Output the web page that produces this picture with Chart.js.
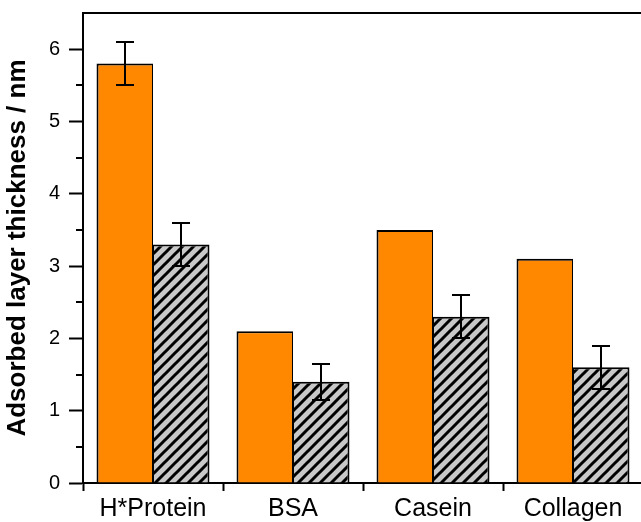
<!DOCTYPE html>
<html><head><meta charset="utf-8">
<script src="https://cdn.jsdelivr.net/npm/chart.js@4/dist/chart.umd.min.js"></script>
<style>html,body{margin:0;padding:0;overflow:hidden;background:#fff;width:641px;height:522px}</style>
</head><body>
<canvas id="c" width="660" height="522" style="display:block;width:660px;height:522px"></canvas>
<script>
const categories = ['H*Protein', 'BSA', 'Casein', 'Collagen'];
const seriesA = [5.8, 2.1, 3.5, 3.1];
const errorsA = [0.3, 0, 0, 0];
const seriesB = [3.3, 1.4, 2.3, 1.6];
const errorsB = [0.3, 0.25, 0.3, 0.3];
const yTicks = [0, 1, 2, 3, 4, 5, 6];
const yMinorTicks = [0.5, 1.5, 2.5, 3.5, 4.5, 5.5];
const yMin = 0, yMax = 6.5;
const yTitle = 'Adsorbed layer thickness / nm';

const F = "'Liberation Sans', Arial, Helvetica, sans-serif";

function hatch() {
  const s = 11;
  const c = document.createElement('canvas');
  c.width = s; c.height = s;
  const g = c.getContext('2d');
  g.fillStyle = '#c8c8c8'; g.fillRect(0, 0, s, s);
  g.strokeStyle = '#000'; g.lineWidth = 3;
  g.beginPath();
  g.moveTo(-1, s + 1); g.lineTo(s + 1, -1);
  g.moveTo(-s / 2 - 1, s / 2 + 1); g.lineTo(s / 2 + 1, -s / 2 - 1);
  g.moveTo(s / 2 - 1, s * 1.5 + 1); g.lineTo(s * 1.5 + 1, s / 2 - 1);
  g.stroke();
  return g.createPattern(c, 'repeat');
}

const errorPlugin = {
  id: 'err',
  afterDatasetsDraw(chart) {
    const ctx = chart.ctx, y = chart.scales.y;
    chart.data.datasets.forEach((ds, i) => {
      const meta = chart.getDatasetMeta(i);
      meta.data.forEach((bar, j) => {
        const e = ds.errors[j];
        if (!e) return;
        const v = ds.data[j], x = Math.round(bar.x);
        const top = Math.round(y.getPixelForValue(v + e)), bot = Math.round(y.getPixelForValue(v - e));
        ctx.save();
        ctx.strokeStyle = '#000'; ctx.lineWidth = 2;
        ctx.beginPath();
        ctx.moveTo(x, top); ctx.lineTo(x, bot);
        ctx.moveTo(x - 9, top); ctx.lineTo(x + 9, top);
        ctx.moveTo(x - 9, bot); ctx.lineTo(x + 9, bot);
        ctx.stroke();
        ctx.restore();
      });
    });
  }
};

const framePlugin = {
  id: 'frame',
  afterDraw(chart) {
    const ctx = chart.ctx, a = chart.chartArea, y = chart.scales.y;
    ctx.save();
    ctx.strokeStyle = '#000'; ctx.lineWidth = 2;
    ctx.beginPath();
    ctx.moveTo(a.left - 1, a.top); ctx.lineTo(a.right + 1, a.top);
    ctx.moveTo(a.right, a.top); ctx.lineTo(a.right, a.bottom);
    yMinorTicks.forEach(v => {
      const p = Math.round(y.getPixelForValue(v));
      ctx.moveTo(a.left - 7, p); ctx.lineTo(a.left, p);
    });
    ctx.stroke();
    ctx.restore();
  }
};

new Chart(document.getElementById('c'), {
  type: 'bar',
  data: {
    labels: categories,
    datasets: [
      {
        data: seriesA, errors: errorsA,
        backgroundColor: '#ff8800', borderColor: '#000',
        borderWidth: {top: 2, left: 2, right: 1, bottom: 0}, borderSkipped: false,
        categoryPercentage: 0.807, barPercentage: 1
      },
      {
        data: seriesB, errors: errorsB,
        backgroundColor: hatch(), borderColor: '#000',
        borderWidth: {top: 2, left: 1, right: 2, bottom: 0}, borderSkipped: false,
        categoryPercentage: 0.807, barPercentage: 1
      }
    ]
  },
  options: {
    responsive: false, animation: false, devicePixelRatio: 1,
    layout: {padding: {top: 13, right: 17, left: 0, bottom: 0}},
    plugins: {legend: {display: false}, tooltip: {enabled: false}},
    scales: {
      x: {
        type: 'category', offset: true,
        grid: {offset: true, drawOnChartArea: false, tickLength: 8, tickWidth: 2, tickColor: '#000'},
        border: {display: true, color: '#000', width: 2},
        ticks: {color: '#000', font: {family: F, size: 25}, padding: 3, maxRotation: 0, autoSkip: false},
        afterFit(s) { s.height = 39; s.paddingLeft = 0; s.paddingRight = 0; }
      },
      y: {
        min: yMin, max: yMax,
        afterBuildTicks(s) { s.ticks = yTicks.map(v => ({value: v})); },
        grid: {drawOnChartArea: false, tickLength: 14, tickWidth: 2, tickColor: '#000'},
        border: {display: true, color: '#000', width: 2},
        ticks: {color: '#000', font: {family: F, size: 20}, padding: 9},
        title: {display: true, text: yTitle, color: '#000', font: {family: F, size: 26, weight: 'bold'}, padding: {top: 2, bottom: 0}},
        afterFit(s) { s.width = 83; s.paddingTop = 0; s.paddingBottom = 0; }
      }
    }
  },
  plugins: [errorPlugin, framePlugin]
});
</script>
</body></html>
